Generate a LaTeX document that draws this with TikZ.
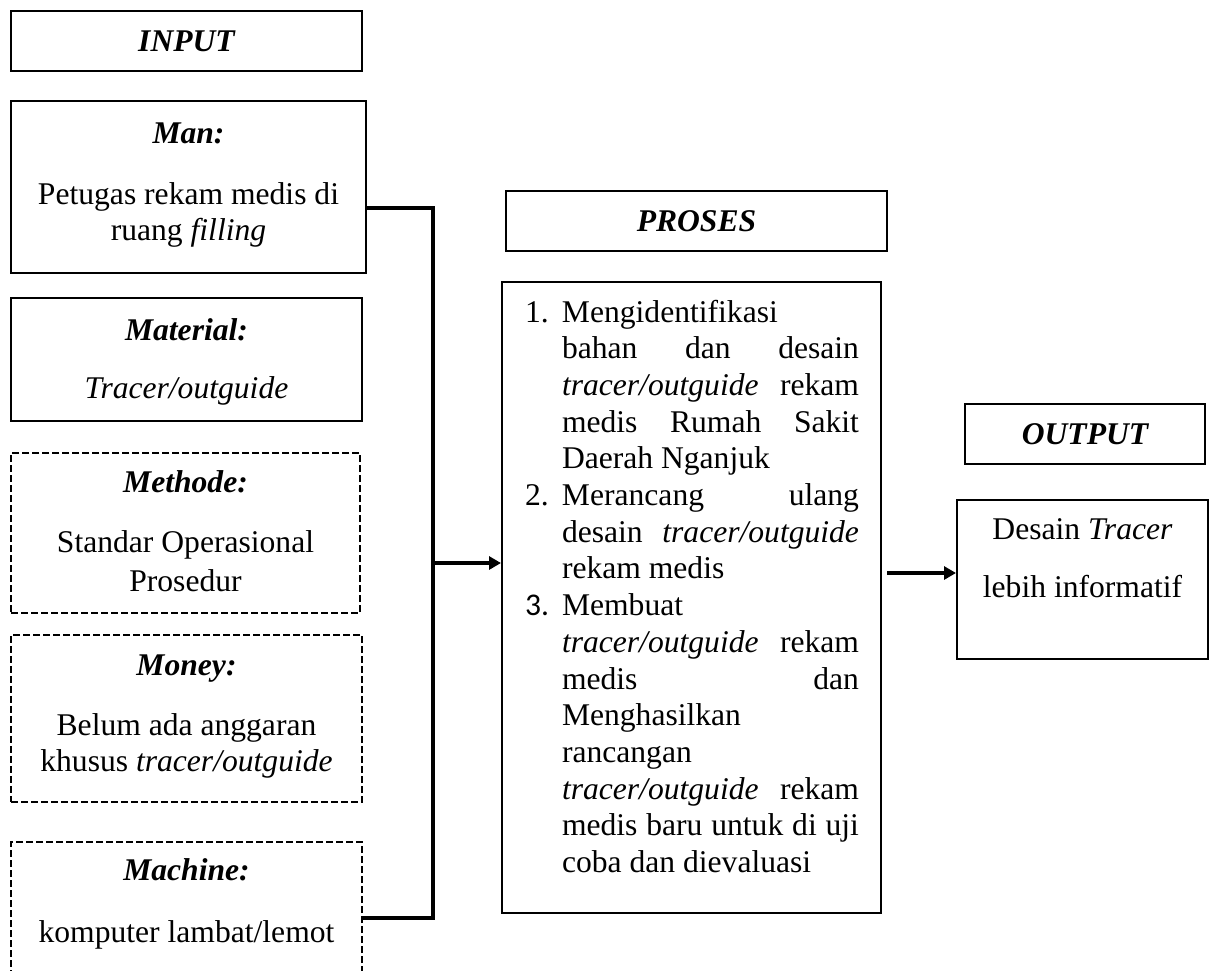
\documentclass[tikz,border=0pt]{standalone}
\usepackage{fontspec}
\setmainfont{Liberation Serif}
\newfontfamily\numfont{Carlito}
\usetikzlibrary{arrows.meta}
\newlength\upx
\setlength\upx{0.5pt}
% text block of a box: height, width, first baseline, content
\newcommand{\inbox}[4]{\parbox[c][#1\upx][t]{#2\upx}{\centering\rule{0pt}{#3\upx}#4}}
\newcommand{\titl}[1]{\textbf{\textit{#1}}}
\newcommand{\itm}[1]{\leavevmode\llap{\makebox[37\upx][l]{#1}}}
\begin{document}
\begin{tikzpicture}[x=0.5pt,y=-0.5pt,
	box/.style={draw,line width=1pt,inner sep=0pt,font=\fontsize{15.8}{18}\selectfont},
	dbox/.style={box,dash pattern=on 3.3pt off 1.7pt},
	head/.style={box,minimum height=30pt,font=\fontsize{15.8}{18}\selectfont\bfseries\itshape},
	bus/.style={line width=2pt},
	arr/.style={line width=1.8pt,-{Triangle[length=6pt,width=6.5pt]}}]
	\useasboundingbox[fill=white] (0,0) rectangle (1216,970);
	% input
	\node[head,minimum width=175.5pt] (inp) at (186.5,41) {INPUT};
	\node[box] (man) at (188.5,187) {\inbox{172}{355}{42}{\titl{Man:}\\[25\upx]Petugas rekam medis di\\ruang \textit{filling}}};
	\node[box] (mat) at (186.5,359.5) {\inbox{123}{351}{42}{\titl{Material:}\\[22\upx]\textit{Tracer/outguide}}};
	\node[dbox] (met) at (185.5,533) {\inbox{160}{349}{39}{\titl{Methode:}\\[24\upx]Standar Operasional\\[3\upx]Prosedur}};
	\node[dbox] (mon) at (186.5,718.5) {\inbox{167}{351}{40}{\titl{Money:}\\[24\upx]Belum ada anggaran\\khusus \textit{tracer/outguide}}};
	\node[dbox] (mac) at (186.5,932) {\inbox{180}{351}{38}{\titl{Machine:}\\[26\upx]komputer lambat/lemot}};
	% proses
	\node[head,minimum width=190.5pt] (phead) at (696.5,221) {PROSES};
	\node[box,font=\fontsize{15.8}{18.35}\selectfont] (proc) at (691.5,597.5) {\parbox[c][631\upx][t]{379\upx}{%
		\leftskip=60\upx \rightskip=22\upx \tolerance=10000 \hyphenpenalty=10000 \parfillskip=0pt plus 1fil
		\itm{1.}\rule{0pt}{40\upx}Mengidentifikasi\linebreak bahan dan desain\linebreak \textit{tracer/outguide} rekam\linebreak medis Rumah Sakit\linebreak Daerah Nganjuk\par
		\itm{2.}Merancang ulang\linebreak desain \textit{tracer/outguide}\linebreak rekam medis\par
		\itm{\numfont 3.}Membuat\linebreak \textit{tracer/outguide} rekam\linebreak medis dan\linebreak Menghasilkan\linebreak rancangan\linebreak \textit{tracer/outguide} rekam\linebreak medis baru untuk di uji\linebreak coba dan dievaluasi\par}};
	% output
	\node[head,minimum width=120pt] (ohead) at (1085,434) {OUTPUT};
	\node[box] (res) at (1082.5,579.5) {\inbox{159}{251}{39}{Desain \textit{Tracer}\\[22\upx]lebih informatif}};
	% connectors
	\coordinate (j1) at (433,208);
	\coordinate (j2) at (433,918);
	\coordinate (j3) at (433,563);
	\coordinate (k1) at (887,573);
	\draw[bus] (man.east |- j1) -- (j1) -- (j2) -- (mac.east |- j2);
	\draw[arr] (j3) -- (proc.west |- j3);
	\draw[arr] (k1) -- (res.west |- k1);
\end{tikzpicture}
\end{document}
